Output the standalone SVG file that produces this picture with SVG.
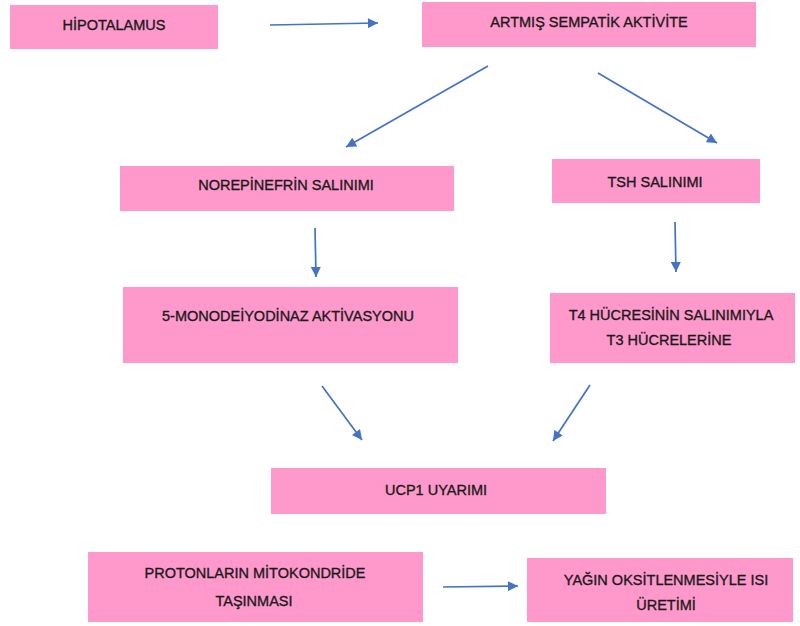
<svg xmlns="http://www.w3.org/2000/svg" width="800" height="626" viewBox="0 0 800 626">
  <style>
    .box { fill: #FF99CC; }
    .lbl { font-family: "Liberation Sans", Arial, sans-serif; font-size: 14.5px; fill: #1a1a1a; stroke: #1a1a1a; stroke-width: 0.35; text-anchor: middle; }
    .con { stroke: #4472C4; stroke-width: 1.7; fill: none; marker-end: url(#head); }
  </style>
  <defs>
    <marker id="head" viewBox="0 0 10 10" refX="10" refY="5" markerUnits="userSpaceOnUse" markerWidth="11" markerHeight="10" orient="auto">
      <path d="M0,0 L10,5 L0,10 z" fill="#4472C4"/>
    </marker>
  </defs>
  <rect width="800" height="626" fill="#ffffff"/>

  <g id="hipotalamus">
    <rect class="box" x="10" y="5" width="208" height="44"/>
    <text class="lbl" x="114" y="30">HİPOTALAMUS</text>
  </g>
  <g id="sempatik">
    <rect class="box" x="422" y="2" width="334" height="45"/>
    <text class="lbl" x="589" y="27">ARTMIŞ SEMPATİK AKTİVİTE</text>
  </g>
  <g id="norepinefrin">
    <rect class="box" x="120" y="166" width="334" height="45"/>
    <text class="lbl" x="286" y="190">NOREPİNEFRİN SALINIMI</text>
  </g>
  <g id="tsh">
    <rect class="box" x="552" y="159" width="208" height="44"/>
    <text class="lbl" x="655" y="187">TSH SALINIMI</text>
  </g>
  <g id="monodeiyodinaz">
    <rect class="box" x="123" y="287" width="335" height="76"/>
    <text class="lbl" x="288" y="321">5-MONODEİYODİNAZ AKTİVASYONU</text>
  </g>
  <g id="t4">
    <rect class="box" x="550" y="293" width="245" height="70"/>
    <text class="lbl" x="671" y="320">T4 HÜCRESİNİN SALINIMIYLA</text>
    <text class="lbl" x="669" y="345">T3 HÜCRELERİNE</text>
  </g>
  <g id="ucp1">
    <rect class="box" x="271" y="468" width="335" height="46"/>
    <text class="lbl" x="436" y="495">UCP1 UYARIMI</text>
  </g>
  <g id="protonlar">
    <rect class="box" x="88" y="552" width="335" height="70"/>
    <text class="lbl" x="255" y="578">PROTONLARIN MİTOKONDRİDE</text>
    <text class="lbl" x="254" y="606">TAŞINMASI</text>
  </g>
  <g id="isi">
    <rect class="box" x="527" y="558" width="266" height="64"/>
    <text class="lbl" x="666" y="585">YAĞIN OKSİTLENMESİYLE ISI</text>
    <text class="lbl" x="666" y="610">ÜRETİMİ</text>
  </g>

  <g id="connectors">
    <line class="con" x1="270" y1="25" x2="378" y2="23"/>
    <line class="con" x1="488" y1="66" x2="346" y2="147"/>
    <line class="con" x1="598" y1="73" x2="717" y2="143"/>
    <line class="con" x1="315" y1="228" x2="316" y2="277"/>
    <line class="con" x1="675" y1="222" x2="676" y2="272"/>
    <line class="con" x1="322" y1="386" x2="362" y2="440"/>
    <line class="con" x1="590" y1="385" x2="553" y2="441"/>
    <line class="con" x1="443" y1="587" x2="518" y2="586"/>
  </g>
</svg>
